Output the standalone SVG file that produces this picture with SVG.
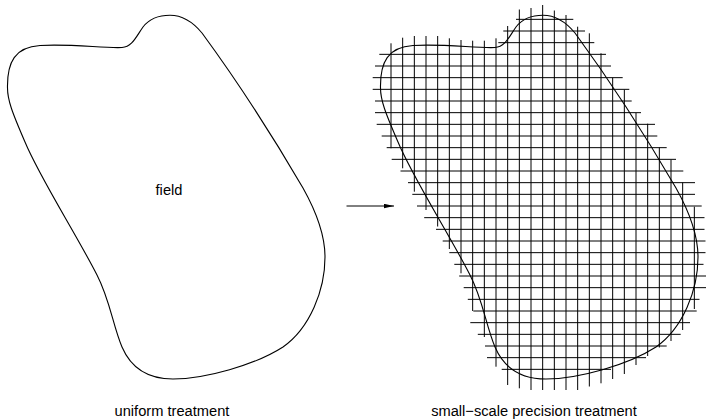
<svg xmlns="http://www.w3.org/2000/svg" xmlns:xlink="http://www.w3.org/1999/xlink" width="706" height="419" viewBox="0 0 706 419">
<style>
.outline{fill:none;stroke:#000;stroke-width:1.1}
.grid{fill:none;stroke:#000;stroke-width:1}
.conn{fill:none;stroke:#000;stroke-width:1}
.lbl{font-family:"Liberation Sans",Arial,sans-serif;font-size:14.67px;fill:#000;text-anchor:middle}
</style>
<defs>
<path id="fieldShape" d="M7.5,88 C7,62 15,47 40,45.5 C70,43.5 105,48.5 122,47.5 C132,47 136,37 143,27 C150,18 159,15.3 170,15.3 C182,15.3 192,21 202,33 C235,78 275,140 303,188 C317,213 325,235 325,257 C325,290 310,328 283,347 C255,365 205,379 173,379 C148,379 131,368 122,347 C113,326 110,300 97,275 C75,232 40,178 25,142 C12,112 7.5,100 7.5,88 Z"/>
<marker id="arrowHead" markerWidth="10" markerHeight="5" refX="10" refY="2.2" orient="auto" markerUnits="userSpaceOnUse">
<path d="M0,0 L10,2.2 L0,4.4 Z" fill="#000"/>
</marker>
</defs>
<g id="field-uniform">
<use xlink:href="#fieldShape" href="#fieldShape" class="outline"/>
<text class="lbl" x="169" y="195">field</text>
<text class="lbl" x="172" y="416">uniform treatment</text>
</g>
<g id="field-precision">
<path class="grid" d="M391 43.3V148.3 M402.67 37.7V168.3 M414.33 36V191.7 M426 36V210 M437.67 36V226.5 M449.33 38.3V249 M461 40V273.3 M472.67 40.7V311 M484.33 40.7V337 M496 38.3V366.7 M507.67 26V385 M519.33 9.5V388.3 M531 8V390 M542.67 5V390 M554.33 10.5V390 M566 15V390 M577.67 26.7V390 M589.33 33.3V386.5 M601 53.3V383.3 M612.67 77.7V379 M624.33 89.7V374 M636 113V365 M647.67 123.7V356 M659.33 147.5V347.5 M671 159.7V341 M682.67 182.5V330 M694.33 206.7V309"/>
<path class="grid" d="M516 19.33H573.3 M503.3 31H585 M498.3 42.67H594.3 M379.3 54.33H606 M375 66H611 M372.7 77.67H622.7 M372.7 89.33H629.3 M375 101H631.7 M375 112.67H641 M376.7 124.33H655 M381.7 136H657.3 M386.7 147.67H666.7 M391.7 159.33H676 M400.5 171H683.3 M408 182.67H695 M412.3 194.33H695 M417 206H701.7 M424.2 217.67H704.5 M436 229.33H704.5 M442.7 241H705.5 M449.3 252.67H705.5 M454.3 264.33H703.5 M459.2 276H706 M463.7 287.67H706 M467.8 299.33H699.5 M473.3 311H696.7 M470.3 322.67H690 M477.8 334.33H680.7 M485 346H666.7 M487 357.67H646 M501.7 369.33H611"/>
<use xlink:href="#fieldShape" href="#fieldShape" class="outline" transform="translate(373,0)"/>
<text class="lbl" x="534" y="416">small−scale precision treatment</text>
</g>
<g id="connectors">
<path class="conn" d="M346.5,206 H394" marker-end="url(#arrowHead)"/>
</g>
</svg>
